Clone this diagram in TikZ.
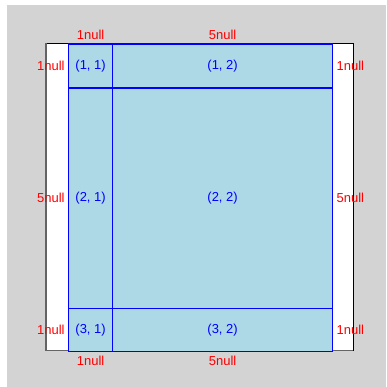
\documentclass[tikz,border=0pt]{standalone}
\usepackage{fontspec}
\setmainfont{Liberation Sans}
\tikzset{
  lab/.style={text=red, font=\fontsize{13}{13}\selectfont, inner sep=3.2pt},
  cell/.style={draw=blue, fill=lightblue, line width=1.2pt},
  celltext/.style={text=blue, font=\fontsize{13}{13}\selectfont}
}
\definecolor{lightblue}{RGB}{173,216,230}
\definecolor{bggray}{RGB}{211,211,211}
\definecolor{edgegray}{RGB}{100,100,100}
\begin{document}
\begin{tikzpicture}[x=1pt,y=-1pt]
\useasboundingbox (0,0) rectangle (386,387);
\fill[white] (0,0) rectangle (386,387);
\fill[bggray] (7,5) rectangle (386,387);
% frame
\fill[white] (46,43.5) rectangle (353,350.5);
\draw[black, line width=1pt] (46,43.5) -- (353,43.5) -- (353,350.5);
\draw[edgegray, line width=1.5pt] (46,43.5) -- (46,350.5) -- (353,350.5);
% cells
\node[cell, minimum width=44, minimum height=44, inner sep=0, anchor=north west] (c11) at (68,43.5) {};
\node[cell, minimum width=220, minimum height=44, inner sep=0, anchor=north west] (c12) at (112,43.5) {};
\node[cell, minimum width=44, minimum height=220, inner sep=0, anchor=north west] (c21) at (68,87.5) {};
\node[cell, minimum width=220, minimum height=220, inner sep=0, anchor=north west] (c22) at (112,87.5) {};
\node[cell, minimum width=44, minimum height=43.5, inner sep=0, anchor=north west] (c31) at (68,307.5) {};
\node[cell, minimum width=220, minimum height=43.5, inner sep=0, anchor=north west] (c32) at (112,307.5) {};
\node[celltext] at (c11) {(1, 1)};
\node[celltext] at (c12) {(1, 2)};
\node[celltext] at (c21) {(2, 1)};
\node[celltext] at (c22) {(2, 2)};
\node[celltext] at (c31) {(3, 1)};
\node[celltext] at (c32) {(3, 2)};
% labels
\node[lab, anchor=south] (t1) at (c11.north) {1null};
\node[lab, anchor=south] (t2) at (c12.north) {5null};
\node[lab, anchor=north] (b1) at (c31.south) {1null};
\node[lab, anchor=north] (b2) at (c32.south) {5null};
\node[lab, anchor=east] (l1) at (c11.west) {1null};
\node[lab, anchor=east] (l2) at (c21.west) {5null};
\node[lab, anchor=east] (l3) at (c31.west) {1null};
\node[lab, anchor=west] (r1) at (c12.east) {1null};
\node[lab, anchor=west] (r2) at (c22.east) {5null};
\node[lab, anchor=west] (r3) at (c32.east) {1null};
\end{tikzpicture}
\end{document}
